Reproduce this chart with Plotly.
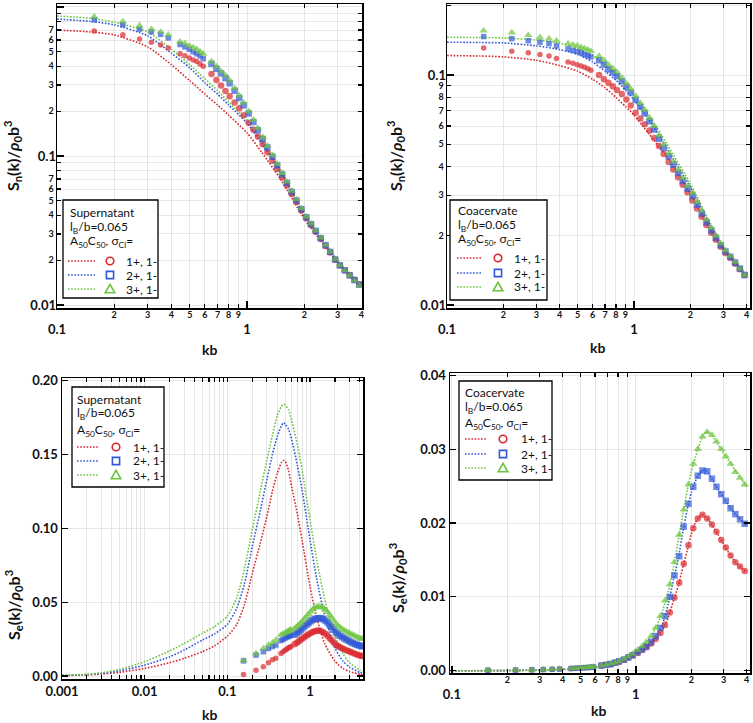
import plotly.graph_objects as go

# ---------------------------------------------------------------- data
SPARSE_K = [0.157, 0.222, 0.272, 0.314, 0.351, 0.385, 0.444, 0.471, 0.497, 0.521, 0.544, 0.566, 0.588]
DENSE_K = [0.65, 0.69, 0.73, 0.77, 0.81, 0.86, 0.91, 0.96, 1.02, 1.08, 1.14, 1.21, 1.28, 1.36, 1.44,
           1.53, 1.62, 1.72, 1.82, 1.93, 2.05, 2.17, 2.30, 2.44, 2.59, 2.74, 2.91, 3.08, 3.27, 3.47,
           3.68, 3.90]
DENSE_K_WIDE = [0.65, 0.69, 0.73, 0.77, 0.81, 0.86, 0.91, 0.96, 1.02, 1.08, 1.14, 1.21, 1.28, 1.36, 1.44,
                1.53, 1.62, 1.72, 1.82, 1.93, 2.05, 2.17, 2.30, 2.44, 2.59, 2.74, 2.91, 3.08, 3.27, 3.47,
                3.68, 3.90, 4.12, 4.30]

SERIES_LABELS = ["1+, 1-", "2+, 1-", "3+, 1-"]

# --- panel 1: Sn, supernatant (log-log)
SN_SUP_THEORY_K = [0.1, 0.15, 0.2, 0.3, 0.4, 0.5, 0.6, 0.7, 0.8, 1.0, 1.2, 1.5, 2.0, 2.5, 3.0, 3.5, 4.0]
SN_SUP_THEORY_1 = [0.70, 0.68, 0.65, 0.54, 0.41, 0.32, 0.26, 0.22, 0.188, 0.143, 0.105, 0.070, 0.038, 0.026, 0.0195, 0.0158, 0.0135]
SN_SUP_THEORY_2 = [0.83, 0.80, 0.76, 0.64, 0.49, 0.39, 0.31, 0.26, 0.22, 0.166, 0.120, 0.078, 0.040, 0.027, 0.0198, 0.016, 0.0135]
SN_SUP_THEORY_3 = [0.87, 0.84, 0.79, 0.68, 0.52, 0.41, 0.33, 0.275, 0.23, 0.174, 0.126, 0.081, 0.041, 0.0272, 0.0198, 0.016, 0.0135]
SN_SUP_SIM_1_SPARSE = [0.69, 0.65, 0.61, 0.58, 0.555, 0.53, 0.485, 0.47, 0.455, 0.44, 0.43, 0.415, 0.40]
SN_SUP_SIM_2_SPARSE = [0.82, 0.76, 0.71, 0.68, 0.655, 0.62, 0.56, 0.54, 0.52, 0.50, 0.485, 0.47, 0.45]
SN_SUP_SIM_3_SPARSE = [0.86, 0.80, 0.75, 0.71, 0.68, 0.65, 0.585, 0.57, 0.55, 0.535, 0.52, 0.50, 0.485]
SN_SUP_SIM_1_DENSE = [0.355, 0.323, 0.297, 0.273, 0.252, 0.229, 0.209, 0.188, 0.167, 0.150, 0.135, 0.120, 0.106,
                      0.0929, 0.0819, 0.0718, 0.0634, 0.0556, 0.0492, 0.0433, 0.0382, 0.0344, 0.0310, 0.0278,
                      0.0249, 0.0225, 0.0201, 0.0184, 0.0171, 0.0159, 0.0148, 0.0138]
SN_SUP_SIM_2_DENSE = [0.415, 0.385, 0.358, 0.333, 0.308, 0.274, 0.245, 0.219, 0.193, 0.169, 0.149, 0.130, 0.114,
                      0.0990, 0.0866, 0.0752, 0.0660, 0.0574, 0.0503, 0.0440, 0.0388, 0.0349, 0.0314, 0.0281,
                      0.0252, 0.0227, 0.0202, 0.0185, 0.0171, 0.0158, 0.0147, 0.0137]
SN_SUP_SIM_3_DENSE = [0.430, 0.398, 0.371, 0.347, 0.322, 0.285, 0.255, 0.228, 0.200, 0.175, 0.154, 0.134, 0.117,
                      0.1016, 0.0887, 0.0769, 0.0673, 0.0584, 0.0511, 0.0445, 0.0392, 0.0352, 0.0316, 0.0283,
                      0.0253, 0.0228, 0.0203, 0.0185, 0.0171, 0.0158, 0.0146, 0.0135]

# --- panel 2: Sn, coacervate (log-log)
SN_COA_THEORY_K = [0.1, 0.15, 0.2, 0.3, 0.4, 0.5, 0.6, 0.7, 0.8, 0.9, 1.0, 1.2, 1.5, 2.0, 2.5, 3.0, 3.5, 4.0]
SN_COA_THEORY_1 = [0.1216, 0.121, 0.120, 0.116, 0.110, 0.104, 0.096, 0.088, 0.080, 0.073, 0.067, 0.0555, 0.044, 0.0305, 0.0219, 0.0174, 0.0152, 0.0133]
SN_COA_THEORY_2 = [0.139, 0.1385, 0.138, 0.134, 0.129, 0.123, 0.114, 0.104, 0.095, 0.086, 0.078, 0.064, 0.048, 0.0326, 0.023, 0.0178, 0.0153, 0.0134]
SN_COA_THEORY_3 = [0.146, 0.1455, 0.145, 0.142, 0.138, 0.130, 0.122, 0.111, 0.1015, 0.091, 0.082, 0.067, 0.050, 0.0337, 0.0235, 0.018, 0.0154, 0.0134]
SN_COA_SIM_1_SPARSE = [0.131, 0.127, 0.125, 0.123, 0.121, 0.118, 0.114, 0.1125, 0.111, 0.1095, 0.108, 0.1065, 0.105]
SN_COA_SIM_2_SPARSE = [0.147, 0.144, 0.141, 0.139, 0.137, 0.134, 0.130, 0.128, 0.1265, 0.125, 0.123, 0.1215, 0.120]
SN_COA_SIM_3_SPARSE = [0.156, 0.153, 0.149, 0.146, 0.144, 0.141, 0.137, 0.1355, 0.134, 0.132, 0.1305, 0.129, 0.127]
SN_COA_SIM_1_DENSE = [0.100, 0.096, 0.0925, 0.0893, 0.0862, 0.0828, 0.0782, 0.0738, 0.0686, 0.0647, 0.0611, 0.0574,
                      0.0532, 0.0491, 0.0454, 0.0419, 0.0388, 0.0359, 0.0333, 0.0309, 0.0285, 0.0263, 0.0242,
                      0.0223, 0.0206, 0.0192, 0.0179, 0.0168, 0.0160, 0.0151, 0.0143, 0.0135]
SN_COA_SIM_2_DENSE = [0.116, 0.111, 0.106, 0.1025, 0.099, 0.094, 0.089, 0.084, 0.078, 0.0728, 0.0682, 0.0630,
                      0.0580, 0.0528, 0.0482, 0.0443, 0.0408, 0.0375, 0.0346, 0.0321, 0.0298, 0.0273, 0.0250,
                      0.0229, 0.0211, 0.0196, 0.0182, 0.0171, 0.0162, 0.0153, 0.0144, 0.0135]
SN_COA_SIM_3_DENSE = [0.121, 0.116, 0.111, 0.107, 0.103, 0.0975, 0.092, 0.087, 0.081, 0.0755, 0.0706, 0.0652,
                      0.0600, 0.0546, 0.0498, 0.0457, 0.0421, 0.0387, 0.0357, 0.0330, 0.0307, 0.0281, 0.0257,
                      0.0235, 0.0216, 0.0200, 0.0185, 0.0173, 0.0163, 0.0154, 0.0144, 0.0135]

# --- panel 3: Se, supernatant (log x, linear y)
SE_SUP_THEORY_K = [0.001, 0.002, 0.003, 0.005, 0.01, 0.02, 0.03, 0.05, 0.07, 0.1, 0.13, 0.16, 0.2, 0.25, 0.3,
                   0.35, 0.4, 0.45, 0.48, 0.5, 0.55, 0.6, 0.7, 0.8, 1.0, 1.2, 1.5, 2.0, 2.5, 3.0, 4.0, 4.4]
SE_SUP_THEORY_1 = [0.0003, 0.0008, 0.0013, 0.0025, 0.0052, 0.009, 0.012, 0.0165, 0.0205, 0.027, 0.035, 0.048,
                   0.0695, 0.090, 0.108, 0.125, 0.137, 0.1445, 0.146, 0.1455, 0.139, 0.128, 0.110, 0.092, 0.0605,
                   0.040, 0.022, 0.010, 0.005, 0.003, 0.0012, 0.001]
SE_SUP_THEORY_2 = [0.0004, 0.001, 0.0018, 0.0035, 0.0074, 0.013, 0.0176, 0.0244, 0.0285, 0.035, 0.046, 0.062,
                   0.0876, 0.112, 0.133, 0.150, 0.162, 0.1695, 0.1716, 0.1705, 0.167, 0.160, 0.143, 0.126, 0.092,
                   0.066, 0.041, 0.019, 0.010, 0.006, 0.0025, 0.002]
SE_SUP_THEORY_3 = [0.0005, 0.0012, 0.0022, 0.0045, 0.0097, 0.017, 0.022, 0.029, 0.0335, 0.0405, 0.053, 0.072,
                   0.099, 0.125, 0.146, 0.163, 0.176, 0.1825, 0.184, 0.1835, 0.180, 0.173, 0.157, 0.1395, 0.1056,
                   0.079, 0.052, 0.027, 0.015, 0.009, 0.004, 0.003]
SE_SUP_SIM_1_SPARSE = [0.0011, 0.004, 0.0063, 0.009, 0.011, 0.012, 0.0153, 0.0165, 0.0175, 0.0182, 0.019, 0.0195, 0.020]
SE_SUP_SIM_2_SPARSE = [0.0103, 0.0142, 0.0165, 0.0187, 0.0200, 0.021, 0.0240, 0.0248, 0.0256, 0.0262, 0.0268, 0.0272, 0.0276]
SE_SUP_SIM_3_SPARSE = [0.0106, 0.0153, 0.0187, 0.0210, 0.0226, 0.0244, 0.0278, 0.0285, 0.0292, 0.0298, 0.0305, 0.031, 0.0315]
SE_SUP_SIM_1_DENSE = [0.0215, 0.0225, 0.0234, 0.0245, 0.0254, 0.0264, 0.0275, 0.0283, 0.0291, 0.0298, 0.0303,
                      0.0307, 0.0308, 0.0304, 0.0297, 0.0286, 0.0273, 0.0258, 0.0243, 0.0227, 0.0212, 0.0203,
                      0.0195, 0.0188, 0.0181, 0.0175, 0.0169, 0.0163, 0.0157, 0.0151, 0.0146, 0.0141, 0.0138, 0.0135]
SE_SUP_SIM_2_DENSE = [0.0280, 0.0290, 0.0300, 0.0311, 0.0324, 0.0337, 0.0349, 0.0360, 0.0371, 0.0380, 0.0386,
                      0.0390, 0.0392, 0.0391, 0.0386, 0.0376, 0.0363, 0.0346, 0.0330, 0.0313, 0.0296, 0.0284,
                      0.0273, 0.0264, 0.0255, 0.0247, 0.0239, 0.0231, 0.0224, 0.0218, 0.0212, 0.0207, 0.0204, 0.0201]
SE_SUP_SIM_3_DENSE = [0.0322, 0.0334, 0.0346, 0.0358, 0.0372, 0.0388, 0.0404, 0.0420, 0.0437, 0.0452, 0.0462,
                      0.0469, 0.0471, 0.0469, 0.0462, 0.0450, 0.0435, 0.0415, 0.0395, 0.0375, 0.0355, 0.0341,
                      0.0329, 0.0318, 0.0309, 0.0301, 0.0293, 0.0286, 0.0279, 0.0272, 0.0265, 0.0259, 0.0254, 0.0250]

# --- panel 4: Se, coacervate (log x, linear y)
SE_COA_THEORY_K = [0.1, 0.2, 0.3, 0.4, 0.5, 0.6, 0.7, 0.8, 0.9, 1.0, 1.1, 1.2, 1.3, 1.4, 1.5, 1.6, 1.7, 1.8,
                   1.9, 2.0, 2.1, 2.2, 2.3, 2.4, 2.5, 2.6, 2.8, 3.0, 3.25, 3.5, 3.75, 4.0]
SE_COA_THEORY_1 = [0.0, 0.00003, 0.0001, 0.0002, 0.0003, 0.0005, 0.0008, 0.0012, 0.0017, 0.0023, 0.0029, 0.0036,
                   0.0045, 0.0056, 0.0072, 0.0095, 0.0115, 0.0140, 0.0163, 0.0185, 0.0200, 0.0208, 0.0211, 0.0208,
                   0.0203, 0.0197, 0.0184, 0.0171, 0.0157, 0.0146, 0.0139, 0.0133]
SE_COA_THEORY_2 = [0.0, 0.00003, 0.0001, 0.0002, 0.0003, 0.0005, 0.0008, 0.0012, 0.0017, 0.0024, 0.0030, 0.0038,
                   0.0049, 0.0064, 0.0091, 0.0123, 0.0152, 0.0188, 0.0218, 0.0241, 0.0256, 0.0266, 0.0271, 0.0271,
                   0.0266, 0.0259, 0.0245, 0.0234, 0.0221, 0.0211, 0.0203, 0.0197]
SE_COA_THEORY_3 = [0.0, 0.00004, 0.0001, 0.0002, 0.0003, 0.0005, 0.0008, 0.0013, 0.0019, 0.0027, 0.0035, 0.0046,
                   0.0061, 0.0082, 0.0108, 0.0140, 0.0177, 0.0212, 0.0244, 0.0270, 0.0288, 0.0304, 0.0317, 0.0323,
                   0.0322, 0.0318, 0.0306, 0.0294, 0.0282, 0.0269, 0.0259, 0.0249]
SE_COA_SIM_1_SPARSE = [0.00008, 0.0001, 0.00013, 0.00016, 0.0002, 0.00023, 0.0003, 0.00033, 0.00037, 0.0004, 0.00044, 0.00048, 0.00052]
SE_COA_SIM_2_SPARSE = [0.00008, 0.0001, 0.00013, 0.00016, 0.0002, 0.00023, 0.0003, 0.00033, 0.00037, 0.0004, 0.00044, 0.00048, 0.00052]
SE_COA_SIM_3_SPARSE = [0.00009, 0.00011, 0.00014, 0.00017, 0.00021, 0.00025, 0.00032, 0.00035, 0.00039, 0.00042, 0.00046, 0.0005, 0.00055]
SE_COA_SIM_1_DENSE = [0.0007, 0.0008, 0.0009, 0.0011, 0.0012, 0.0015, 0.0018, 0.0021, 0.0024, 0.0028, 0.0032,
                      0.0037, 0.0043, 0.0051, 0.0062, 0.0079, 0.0099, 0.0119, 0.0145, 0.0170, 0.0193, 0.0206,
                      0.0211, 0.0206, 0.0198, 0.0188, 0.0177, 0.0167, 0.0156, 0.0147, 0.0141, 0.0135]
SE_COA_SIM_2_DENSE = [0.0007, 0.0008, 0.0009, 0.0011, 0.0013, 0.0015, 0.0018, 0.0021, 0.0025, 0.0029, 0.0033,
                      0.0039, 0.0047, 0.0058, 0.0074, 0.0100, 0.0129, 0.0155, 0.0195, 0.0226, 0.0249, 0.0264,
                      0.0271, 0.0270, 0.0260, 0.0249, 0.0239, 0.0230, 0.0220, 0.0212, 0.0205, 0.0199]
SE_COA_SIM_3_DENSE = [0.0007, 0.0008, 0.0010, 0.0011, 0.0013, 0.0016, 0.0019, 0.0023, 0.0028, 0.0033, 0.0039,
                      0.0047, 0.0058, 0.0074, 0.0095, 0.0117, 0.0147, 0.0184, 0.0218, 0.0252, 0.0280, 0.0300,
                      0.0317, 0.0323, 0.0319, 0.0310, 0.0300, 0.0290, 0.0280, 0.0269, 0.0261, 0.0252]

# tick labels
LOG_DIGITS = ["2", "3", "4", "5", "6", "7", "8", "9"]
KB_DECADE_LABELS = ["0.1", "1"]
SE_SUP_X_LABELS = ["0.001", "0.01", "0.1", "1"]
SN_SUP_Y_LABELS = ["0.01", "0.1", "1"]
SN_COA_Y_LABELS = ["0.01", "0.1"]
SE_SUP_Y_TICKS = [0.0, 0.05, 0.10, 0.15, 0.20]
SE_SUP_Y_LABELS = ["0.00", "0.05", "0.10", "0.15", "0.20"]
SE_COA_Y_TICKS = [0.0, 0.01, 0.02, 0.03, 0.04]
SE_COA_Y_LABELS = ["0.00", "0.01", "0.02", "0.03", "0.04"]

# ---------------------------------------------------------------- style
W, H = 753, 723
FONT = "Lato, 'Open Sans', sans-serif"
COLORS = ["#d8282d", "#3158d6", "#6cc43f"]
SYMBOLS = ["circle", "square", "triangle-up"]
GRID = "#e6e6e6"
DOT = "1.6px,1.6px"


def px(x):
    return x / W


def py(y):
    return 1 - y / H


fig = go.Figure()

panels = [
    dict(xa="x", ya="y",
         tk=SN_SUP_THEORY_K, th=[SN_SUP_THEORY_1, SN_SUP_THEORY_2, SN_SUP_THEORY_3],
         sk=SPARSE_K + DENSE_K,
         sim=[SN_SUP_SIM_1_SPARSE + SN_SUP_SIM_1_DENSE, SN_SUP_SIM_2_SPARSE + SN_SUP_SIM_2_DENSE,
              SN_SUP_SIM_3_SPARSE + SN_SUP_SIM_3_DENSE], ns=len(SPARSE_K)),
    dict(xa="x2", ya="y2",
         tk=SN_COA_THEORY_K, th=[SN_COA_THEORY_1, SN_COA_THEORY_2, SN_COA_THEORY_3],
         sk=SPARSE_K + DENSE_K,
         sim=[SN_COA_SIM_1_SPARSE + SN_COA_SIM_1_DENSE, SN_COA_SIM_2_SPARSE + SN_COA_SIM_2_DENSE,
              SN_COA_SIM_3_SPARSE + SN_COA_SIM_3_DENSE], ns=len(SPARSE_K)),
    dict(xa="x3", ya="y3",
         tk=SE_SUP_THEORY_K, th=[SE_SUP_THEORY_1, SE_SUP_THEORY_2, SE_SUP_THEORY_3],
         sk=SPARSE_K + DENSE_K_WIDE,
         sim=[SE_SUP_SIM_1_SPARSE + SE_SUP_SIM_1_DENSE, SE_SUP_SIM_2_SPARSE + SE_SUP_SIM_2_DENSE,
              SE_SUP_SIM_3_SPARSE + SE_SUP_SIM_3_DENSE], ns=len(SPARSE_K)),
    dict(xa="x4", ya="y4",
         tk=SE_COA_THEORY_K, th=[SE_COA_THEORY_1, SE_COA_THEORY_2, SE_COA_THEORY_3],
         sk=SPARSE_K + DENSE_K,
         sim=[SE_COA_SIM_1_SPARSE + SE_COA_SIM_1_DENSE, SE_COA_SIM_2_SPARSE + SE_COA_SIM_2_DENSE,
              SE_COA_SIM_3_SPARSE + SE_COA_SIM_3_DENSE], ns=len(SPARSE_K)),
]

sparse_size = [5.5, 5.5, 7.5]
dense_size = [6.5, 6.5, 7.5]

for p in panels:
    for i in range(3):
        fig.add_trace(go.Scatter(
            x=p["tk"], y=p["th"][i], mode="lines", xaxis=p["xa"], yaxis=p["ya"],
            line=dict(color=COLORS[i], width=1.6, dash=DOT, shape="spline", smoothing=0.6),
            showlegend=False, hoverinfo="skip"))
    for i in range(3):
        n = len(p["sk"])
        sizes = [sparse_size[i]] * p["ns"] + [dense_size[i]] * (n - p["ns"])
        fig.add_trace(go.Scatter(
            x=p["sk"], y=p["sim"][i], mode="markers", xaxis=p["xa"], yaxis=p["ya"],
            marker=dict(symbol=SYMBOLS[i], color=COLORS[i], size=sizes, line=dict(width=0)),
            showlegend=False, hoverinfo="skip"))

# empty traces so that the overlay axes (decade labels) are drawn
for xa, ya in [("x5", "y"), ("x6", "y2"), ("x7", "y4"), ("x", "y5"), ("x2", "y6")]:
    fig.add_trace(go.Scatter(x=[None], y=[None], xaxis=xa, yaxis=ya, mode="markers",
                             showlegend=False, hoverinfo="skip"))


def digits_ticks(decades, labels_per_decade):
    vals, txt = [], []
    for d, lab in zip(decades, labels_per_decade):
        for j, dg in enumerate(LOG_DIGITS):
            vals.append(d * (j + 2))
            txt.append(dg if (j + 2) in lab else "")
    return vals, txt


base_axis = dict(showline=True, linecolor="black", linewidth=1.5, mirror="ticks",
                 ticks="inside", ticklen=4, tickwidth=1.2, tickcolor="black",
                 showgrid=True, gridcolor=GRID, gridwidth=1, zeroline=False, automargin=False,
                 tickfont=dict(family=FONT, size=9, color="#111", weight="bold"))
major_font = dict(family=FONT, size=13, color="#111", weight="bold")


def overlay_axis(over, anchor, rng, vals, txt, kind):
    d = dict(overlaying=over, anchor=anchor, type="log", range=rng, tickmode="array",
             tickvals=vals, ticktext=txt, ticks="inside", ticklen=7, tickwidth=1.5,
             tickcolor="black", showline=False, showgrid=True, gridcolor=GRID,
             zeroline=False, automargin=False, tickfont=major_font)
    if kind == "x":
        d["side"] = "bottom"
        d["ticklabelstandoff"] = 12
    else:
        d["side"] = "left"
    return d


dom = {
    1: ((57, 362), (4, 308)),
    2: ((447, 750), (4, 308)),
    3: ((62, 363), (378, 679)),
    4: ((450, 750), (373, 673)),
}


def xdom(i):
    return [px(dom[i][0][0]), px(dom[i][0][1])]


def ydom(i):
    return [py(dom[i][1][1]), py(dom[i][1][0])]


kb_digit_vals, kb_digit_txt = digits_ticks([0.1, 1], [range(2, 10), range(2, 5)])
kb_digit_vals = [v for v in kb_digit_vals if v <= 4.2]
kb_digit_txt = kb_digit_txt[:len(kb_digit_vals)]

rng1x, rng2x, rng4x = [-1, 0.605], [-1, 0.62], [-1.01, 0.62]
rng1y, rng2y = [-2.02, 0.02], [-2.013, -0.691]

sn1_vals, sn1_txt = digits_ticks([0.01, 0.1], [range(2, 8), range(2, 8)])
sn2_vals, sn2_txt = digits_ticks([0.01, 0.1], [range(2, 10), [2]])
sn2 = [(v, t) for v, t in zip(sn2_vals, sn2_txt) if v <= 0.21]
se3_vals, se3_txt = [], []
for d, lab in zip([0.001, 0.01, 0.1, 1], SE_SUP_X_LABELS):
    se3_vals.append(d)
    se3_txt.append(lab)
    for j in range(2, 10):
        if d * j <= 4.4:
            se3_vals.append(d * j)
            se3_txt.append("")

digit_x = dict(ticklabelstandoff=-2)

layout_axes = dict(
    xaxis=dict(base_axis, domain=xdom(1), anchor="y", type="log", range=rng1x, tickmode="array",
               tickvals=kb_digit_vals, ticktext=kb_digit_txt, **digit_x),
    yaxis=dict(base_axis, domain=ydom(1), anchor="x", type="log", range=rng1y, tickmode="array",
               tickvals=sn1_vals, ticktext=sn1_txt),
    xaxis2=dict(base_axis, domain=xdom(2), anchor="y2", type="log", range=rng2x, tickmode="array",
                tickvals=kb_digit_vals, ticktext=kb_digit_txt, **digit_x),
    yaxis2=dict(base_axis, domain=ydom(2), anchor="x2", type="log", range=rng2y, tickmode="array",
                tickvals=[v for v, t in sn2], ticktext=[t for v, t in sn2]),
    xaxis3=dict(base_axis, domain=xdom(3), anchor="y3", type="log", range=[-3, 0.64], tickmode="array",
                tickvals=se3_vals, ticktext=se3_txt, tickfont=major_font),
    yaxis3=dict(base_axis, domain=ydom(3), anchor="x3", range=[-0.002, 0.2018], tickmode="array",
                tickvals=SE_SUP_Y_TICKS, ticktext=SE_SUP_Y_LABELS, tickfont=major_font, ticklen=6),
    xaxis4=dict(base_axis, domain=xdom(4), anchor="y4", type="log", range=rng4x, tickmode="array",
                tickvals=kb_digit_vals, ticktext=kb_digit_txt, **digit_x),
    yaxis4=dict(base_axis, domain=ydom(4), anchor="x4", range=[-0.0003, 0.0403], tickmode="array",
                tickvals=SE_COA_Y_TICKS, ticktext=SE_COA_Y_LABELS, tickfont=major_font, ticklen=6),
    xaxis5=overlay_axis("x", "y", rng1x, [0.1, 1], KB_DECADE_LABELS, "x"),
    xaxis6=overlay_axis("x2", "y2", rng2x, [0.1, 1], KB_DECADE_LABELS, "x"),
    xaxis7=overlay_axis("x4", "y4", rng4x, [0.1, 1], KB_DECADE_LABELS, "x"),
    yaxis5=overlay_axis("y", "x", rng1y, [0.01, 0.1, 1], SN_SUP_Y_LABELS, "y"),
    yaxis6=overlay_axis("y2", "x2", rng2y, [0.01, 0.1], SN_COA_Y_LABELS, "y"),
)

annotations = []
shapes = []

SN_TITLE = "<b>S<sub>n</sub>(k)/<i>ρ</i><sub>0</sub>b<sup>3</sup></b>"
SE_TITLE = "<b>S<sub>e</sub>(k)/<i>ρ</i><sub>0</sub>b<sup>3</sup></b>"
for (tx, ty, t) in [(12, 156, SN_TITLE), (395, 156, SN_TITLE), (13, 605, SE_TITLE), (397, 578, SE_TITLE)]:
    annotations.append(dict(x=px(tx), y=py(ty), xref="paper", yref="paper", text=t, textangle=-90,
                            xanchor="center", yanchor="middle",
                            showarrow=False, font=dict(family=FONT, size=16, color="#111")))
for (tx, ty) in [(210, 349), (597, 347), (210, 714), (598, 710)]:
    annotations.append(dict(x=px(tx), y=py(ty), xref="paper", yref="paper", text="<b>kb</b>",
                            xanchor="center", yanchor="middle",
                            showarrow=False, font=dict(family=FONT, size=14, color="#111")))

legends = [
    dict(box=(63, 200, 158, 298), tx=68, ty=[212, 227, 242], ry=[261, 275, 289], line=(68, 95), mx=110, lx=124, title="Supernatant"),
    dict(box=(450, 200, 547, 300), tx=456, ty=[210, 225, 240], ry=[258, 273, 287], line=(457, 482), mx=498, lx=512, title="Coacervate"),
    dict(box=(72, 387, 164, 487), tx=75, ty=[399, 413, 430], ry=[447, 461, 475], line=(77, 98), mx=116, lx=131, title="Supernatant"),
    dict(box=(459, 381, 552, 480), tx=463, ty=[392, 407, 423], ry=[439, 454, 468], line=(465, 486), mx=503, lx=519, title="Coacervate"),
]
leg_font = dict(family=FONT, size=12, color="#111")
for L in legends:
    x0, y0, x1, y1 = L["box"]
    shapes.append(dict(type="rect", xref="paper", yref="paper", x0=px(x0), x1=px(x1), y0=py(y1), y1=py(y0),
                       line=dict(color="black", width=1.3), fillcolor="white", layer="above"))
    lines = [L["title"], "l<sub>B</sub>/b=0.065", "A<sub>50</sub>C<sub>50</sub>, σ<sub>Cl</sub>="]
    for t, yy in zip(lines, L["ty"]):
        annotations.append(dict(x=px(L["tx"]), y=py(yy), xref="paper", yref="paper", text=t, showarrow=False,
                                xanchor="left", yanchor="middle", font=leg_font))
    for i, yy in enumerate(L["ry"]):
        shapes.append(dict(type="line", xref="paper", yref="paper", x0=px(L["line"][0]), x1=px(L["line"][1]),
                           y0=py(yy), y1=py(yy), line=dict(color=COLORS[i], width=1.4, dash=DOT), layer="above"))
        common = dict(xref="paper", yref="paper", xsizemode="pixel", ysizemode="pixel",
                      xanchor=px(L["mx"]), yanchor=py(yy), line=dict(color=COLORS[i], width=1.6), layer="above")
        if i == 0:
            shapes.append(dict(common, type="circle", x0=-3.8, x1=3.8, y0=-3.8, y1=3.8))
        elif i == 1:
            shapes.append(dict(common, type="rect", x0=-3.6, x1=3.6, y0=-3.6, y1=3.6))
        else:
            shapes.append(dict(common, type="path", path="M -4.8 -3.8 L 4.8 -3.8 L 0 4.6 Z"))
        annotations.append(dict(x=px(L["lx"]), y=py(yy), xref="paper", yref="paper", text=SERIES_LABELS[i],
                                showarrow=False, xanchor="left", yanchor="middle", font=leg_font))

fig.update_layout(
    width=W, height=H, margin=dict(l=0, r=0, t=0, b=0, autoexpand=False),
    paper_bgcolor="white", plot_bgcolor="white", showlegend=False, hovermode=False,
    annotations=annotations, shapes=shapes, **layout_axes)

# remove the browser's default 8px page margin so the figure fills the window exactly
fig.write_html("out.html", config={"displayModeBar": False, "staticPlot": True},
               post_script="document.body.style.margin='0';document.body.style.overflow='hidden';")
